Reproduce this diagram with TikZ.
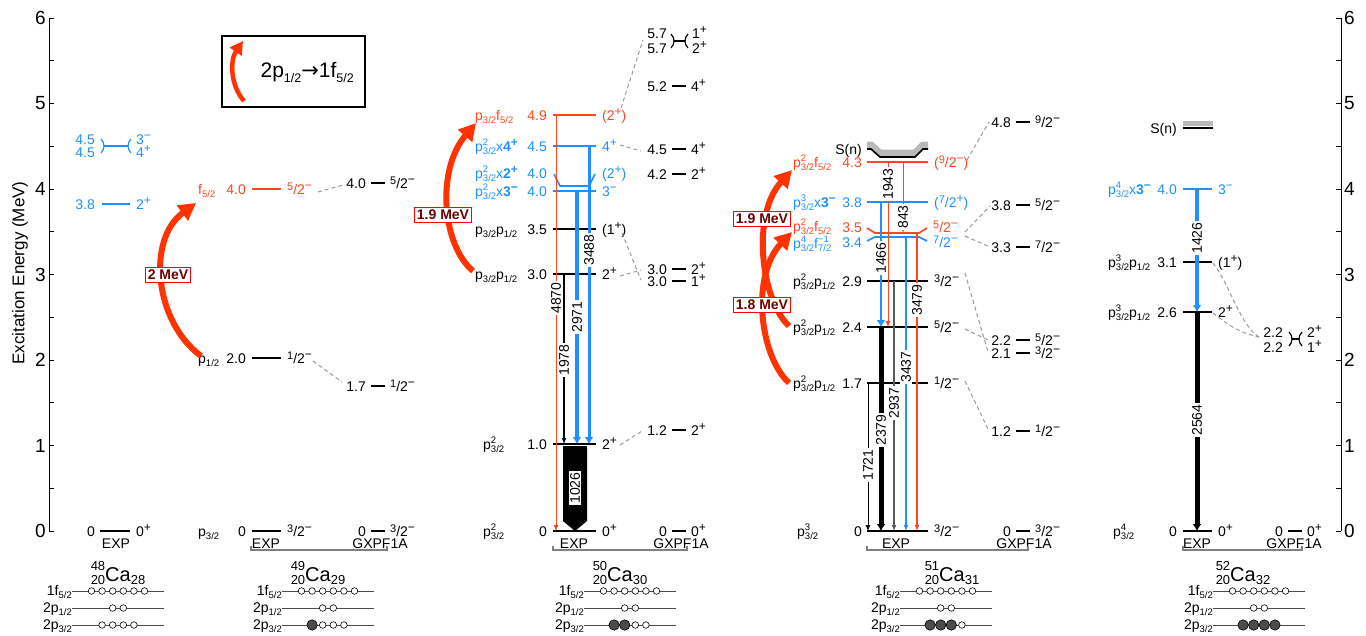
\documentclass[tikz,border=0pt]{standalone}
\usepackage{fontspec}
\setmainfont{Liberation Sans}
\newfontfamily\djv{DejaVu Sans}
\usetikzlibrary{arrows.meta}
\definecolor{cred}{RGB}{255,70,35}
\definecolor{arr}{RGB}{255,51,0}
\definecolor{cblue}{RGB}{30,144,255}
\definecolor{dred}{RGB}{110,0,0}
\newcommand\fsz[1]{\fontsize{#1}{#1}\selectfont}
\newcommand\sbs[1]{\raisebox{-3.5pt}{\fsz{9.5}#1}}
\newcommand\sps[1]{\raisebox{5pt}{\fsz{12}#1}}
\newcommand\sbsp[2]{\rlap{\raisebox{5.5pt}{\fsz{9.5}#1}}\raisebox{-3.5pt}{\fsz{9.5}#2}}
\newcommand\spP{\sps{+}}
\newcommand\spM{\sps{\char"2212}}
\newcommand\hlf[1]{\raisebox{4pt}{\fsz{11}#1}/2}
\newcommand\nuc[3]{\rlap{\raisebox{10.5pt}{\fsz{13}#1}}\raisebox{-3pt}{\fsz{13}#2}{\fsz{20}Ca}\raisebox{-3pt}{\fsz{13}#3}}
% level: color, y, labelx, label, energy x, energy, x1, x2, spin
\newcommand\lev[9]{%
  \node[anchor=base west,text=#1] at (#3,#2+5) {#4};
  \node[anchor=base east,text=#1] at (#5,#2+5) {#6};
  \draw[#1,lvl] (#7,#2) -- (#8,#2);
  \node[anchor=base west,text=#1] at (#8+6,#2+5) {#9};}
% GXPF level: y, X, energy, spin
\newcommand\gx[4]{%
  \node[anchor=base east] at (#2,#1+5) {#3};
  \draw[lvl] (#2+5,#1) -- (#2+19,#1);
  \node[anchor=base west] at (#2+24,#1+5) {#4};}
% doublet bracket: xl, xr, yc, colour
\newcommand\dbl[4]{%
  \draw[#4,line width=1.2] (#1,#3-7) .. controls (#1+4,#3-3) and (#1+4,#3+3) .. (#1,#3+7);
  \draw[#4,line width=1.2] (#2,#3-7) .. controls (#2-4,#3-3) and (#2-4,#3+3) .. (#2,#3+7);
  \draw[#4,lvl] (#1+3,#3) -- (#2-3,#3);}
\newcommand\brk[2]{\draw[gray,line width=1.5] (#1,546) -- (#1,550) -- (#2,550) -- (#2,546);}
\newcommand\orbs[1]{%
  \foreach \yy in {591,608,625} \draw[black!70,line width=0.9] (#1-46,\yy) -- (#1+46,\yy);
  \node[anchor=base east,font=\fsz{14}] at (#1-46,595) {1f\sbs{5/2}};
  \node[anchor=base east,font=\fsz{14}] at (#1-46,612) {2p\sbs{1/2}};
  \node[anchor=base east,font=\fsz{14}] at (#1-46,629) {2p\sbs{3/2}};
  \foreach \k in {-2.5,-1.5,-0.5,0.5,1.5,2.5} \draw[oc] (#1+10.6*\k,591) circle (3.3);
  \foreach \k in {-0.5,0.5} \draw[oc] (#1+10.6*\k,608) circle (3.3);
  \foreach \k in {-1.5,-0.5,0.5,1.5} \draw[oc] (#1+10.6*\k,625) circle (3.3);}
\newcommand\orbfill[2]{\foreach \k in {#2} \draw[fc] (#1+10.6*\k,625) circle (5.2);}
\begin{document}
\begin{tikzpicture}[x=1pt,y=-1pt,
  every node/.style={inner sep=0pt,font=\fsz{14}},
  lvl/.style={line width=1.6},
  dsh/.style={draw=gray!80,dash pattern=on 4pt off 3pt,line width=1},
  lab/.style={rotate=90,fill=white,inner sep=1pt,font=\fsz{14}},
  tarr/.style={-{Latex[length=6pt,width=5pt]}},
  thickarr/.style={-{Latex[length=7pt,width=9pt]}},
  boxlab/.style={draw=red,fill=white,line width=1,inner sep=2.5pt,text=dred,font=\fsz{14}\bfseries},
  bigarr/.style={draw=arr,line width=6,-{Triangle[length=17pt,width=18pt]}},
  oc/.style={draw=black,fill=white,line width=0.6},
  fc/.style={draw=black,fill=black!70,line width=0.6}]
\useasboundingbox (0,0) rectangle (1366,635);

% ---------- axes ----------
\draw[line width=1] (49,18) -- (49,531);
\draw[line width=1] (1341,18) -- (1341,531);
\foreach \k in {0,...,12} {
  \draw[line width=1] (49,531-42.75*\k) -- (54,531-42.75*\k);
  \draw[line width=1] (1341,531-42.75*\k) -- (1336,531-42.75*\k);}
\foreach \k in {0,...,6} {
  \node[anchor=east,font=\fsz{19}] at (46,531-85.5*\k) {\k};
  \node[anchor=west,font=\fsz{19}] at (1344,531-85.5*\k) {\k};}
\node[rotate=90,font=\fsz{17}] (ylab) at (20,273) {Excitation Energy (MeV)};

% ---------- 48Ca ----------
\node[anchor=base east,text=cblue] at (95,144) {4.5};
\node[anchor=base east,text=cblue] at (95,157) {4.5};
\dbl{101}{131}{146}{cblue}
\node[anchor=base west,text=cblue] at (136,144) {3\spM};
\node[anchor=base west,text=cblue] at (136,157) {4\spP};
\lev{cblue}{204}{60}{}{95}{3.8}{102}{130}{2\spP}
\lev{black}{531}{60}{}{95}{0}{100}{130}{0\spP}
\node[anchor=base] at (116,548) {EXP};
\node[anchor=base] (ca48) at (118,581) {\nuc{48}{20}{28}};
\orbs{118}

% ---------- 49Ca ----------
\draw[line width=1.5] (222,36) rectangle (365,107);
\draw[draw=arr,line width=4.5,-{Triangle[length=13pt,width=14pt]}] (244,101) .. controls (230,85) and (230,60) .. (243,41);
\node[anchor=east,font=\fsz{21}] (leg) at (354,72) {2p\raisebox{-5pt}{\fsz{12.5}1/2}{\djv →}1f\raisebox{-5pt}{\fsz{12.5}5/2}};
\lev{cred}{189}{198}{f\sbs{5/2}}{246}{4.0}{252}{281}{\hlf{5}\spM}
\lev{black}{358}{198}{p\sbs{1/2}}{246}{2.0}{252}{281}{\hlf{1}\spM}
\lev{black}{531}{198}{p\sbs{3/2}}{246}{0}{252}{281}{\hlf{3}\spM}
\gx{183}{366}{4.0}{\hlf{5}\spM}
\gx{386}{366}{1.7}{\hlf{1}\spM}
\gx{531}{366}{0}{\hlf{3}\spM}
\draw[dsh] (318,192) -- (343,185);
\draw[dsh] (313,361) -- (342,382);
\draw[bigarr] (201,356) .. controls (155,322) and (146,240) .. (196,203);
\node[boxlab] (b49) at (168,275) {2 MeV};
\node[anchor=base] at (266,548) {EXP};
\node[anchor=base] at (380,548) {GXPF1A};
\brk{251}{387}
\node[anchor=base] (ca49) at (318,581) {\nuc{49}{20}{29}};
\orbs{328}
\orbfill{328}{-1.5}

% ---------- 50Ca ----------
\lev{cred}{115}{475}{p\sbs{3/2}f\sbs{5/2}}{547}{4.9}{553}{596}{(2\spP)}
\lev{cblue}{146}{475}{p\sbsp{2}{3/2}x\textbf{4\spP}}{547}{4.5}{553}{596}{4\spP}
\node[anchor=base west,text=cblue] at (475,178) {p\sbsp{2}{3/2}x\textbf{2\spP}};
\node[anchor=base east,text=cblue] at (547,178) {4.0};
\draw[cblue,lvl] (554,174) -- (560,186) -- (589,186) -- (595,174);
\node[anchor=base west,text=cblue] at (602,178) {(2\spP)};
\lev{cblue}{191}{475}{p\sbsp{2}{3/2}x\textbf{3\spM}}{547}{4.0}{553}{596}{3\spM}
\lev{black}{229}{475}{p\sbs{3/2}p\sbs{1/2}}{547}{3.5}{553}{596}{(1\spP)}
\lev{black}{274}{475}{p\sbs{3/2}p\sbs{1/2}}{547}{3.0}{553}{596}{2\spP}
\lev{black}{444}{483}{p\sbsp{2}{3/2}}{547}{1.0}{553}{596}{2\spP}
\lev{black}{531}{483}{p\sbsp{2}{3/2}}{547}{0}{553}{596}{0\spP}
% transitions
\draw[cred,line width=0.8,tarr] (556,115) -- (556,531);
\node[lab] at (556,298) {4870};
\draw[black,line width=1.8,tarr] (564,274) -- (564,444);
\node[lab] at (564,360) {1978};
\draw[cblue,line width=4,thickarr] (577,191) -- (577,444);
\node[lab] at (577,317) {2971};
\draw[cblue,line width=3,thickarr] (589,146) -- (589,444);
\node[lab] at (589,250) {3488};
\fill (563,446) -- (587,446) -- (587,521) -- (575,531) -- (563,521) -- cycle;
\node[lab] at (575,488) {1026};
% GXPF1A
\node[anchor=base east] at (667,38) {5.7};
\node[anchor=base east] at (667,53) {5.7};
\dbl{671}{688}{41}{black}
\node[anchor=base west] at (692,38) {1\spP};
\node[anchor=base west] at (692,53) {2\spP};
\gx{86}{667}{5.2}{4\spP}
\gx{149}{667}{4.5}{4\spP}
\gx{174}{667}{4.2}{2\spP}
\gx{269}{667}{3.0}{2\spP}
\gx{281}{667}{3.0}{1\spP}
\gx{430}{667}{1.2}{2\spP}
\gx{531}{667}{0}{0\spP}
\draw[dsh] (621,108) -- (643,40);
\draw[dsh] (620,145) -- (641,151);
\draw[dsh] (620,276) -- (641,270);
\draw[dsh] (622,233) -- (641,280);
\draw[dsh] (620,445) -- (642,431);
\draw[bigarr] (473,271) .. controls (442,245) and (436,170) .. (476,123);
\node[boxlab] (b50) at (443,215) {1.9 MeV};
\node[anchor=base] at (574,548) {EXP};
\node[anchor=base] at (681,548) {GXPF1A};
\brk{553}{687}
\node[anchor=base] (ca50) at (620,581) {\nuc{50}{20}{30}};
\orbs{630}
\orbfill{630}{-1.5,-0.5}

% ---------- 51Ca ----------
\node[anchor=base east] at (862,154) {S(n)};
\draw[gray!55,line width=7] (867,145) -- (871,145) -- (880,153) -- (915,153) -- (923,145) -- (928,145);
\draw[line width=1.6] (867,149) -- (871,149) -- (880,157) -- (915,157) -- (923,149) -- (928,149);
\lev{cred}{162}{793}{p\sbsp{2}{3/2}f\sbs{5/2}}{862}{4.3}{867}{928}{(\hlf{9}\spM)}
\lev{cblue}{202}{793}{p\sbsp{3}{3/2}x\textbf{3\spM}}{862}{3.8}{867}{928}{(\hlf{7}\spP)}
\node[anchor=base west,text=cred] at (793,231) {p\sbsp{2}{3/2}f\sbs{5/2}};
\node[anchor=base east,text=cred] at (862,232) {3.5};
\draw[cred,lvl] (867,228) -- (875,233) -- (919,233) -- (927,228);
\node[anchor=base west,text=cred] at (933,232) {\hlf{5}\spM};
\node[anchor=base west,text=cblue] at (793,248) {p\sbsp{4}{3/2}f\sbsp{\char"2212 1}{7/2}};
\node[anchor=base east,text=cblue] at (862,247) {3.4};
\draw[cblue,lvl] (867,241) -- (875,237) -- (919,237) -- (927,241);
\node[anchor=base west,text=cblue] at (933,247) {\hlf{7}\spM};
\lev{black}{281}{793}{p\sbsp{2}{3/2}p\sbs{1/2}}{862}{2.9}{867}{928}{\hlf{3}\spM}
\lev{black}{327}{793}{p\sbsp{2}{3/2}p\sbs{1/2}}{862}{2.4}{867}{928}{\hlf{5}\spM}
\lev{black}{383}{793}{p\sbsp{2}{3/2}p\sbs{1/2}}{862}{1.7}{867}{928}{\hlf{1}\spM}
\lev{black}{531}{797}{p\sbsp{3}{3/2}}{862}{0}{867}{928}{\hlf{3}\spM}
% transitions
\draw[cblue,line width=2.5,thickarr] (881,202) -- (881,327);
\draw[cred,line width=1,tarr] (888,162) -- (888,327);
\draw[cred,line width=1,tarr] (903,162) -- (903,233);
\draw[cblue,line width=1.2,tarr] (906,237) -- (906,531);
\draw[cred,line width=1.5,tarr] (917,233) -- (917,531);
\draw[black!65,line width=1.5,tarr] (894,281) -- (894,531);
\draw[black,line width=5,thickarr] (881,327) -- (881,531);
\draw[black,line width=1,tarr] (868,383) -- (868,531);
\node[lab] at (881,258) {1466};
\node[lab] at (888,184) {1943};
\node[lab] at (903,217) {843};
\node[lab] at (906,367) {3437};
\node[lab] at (917,300) {3479};
\node[lab] at (894,403) {2937};
\node[lab] at (881,430) {2379};
\node[lab] at (868,465) {1721};
% GXPF1A
\gx{122}{1011}{4.8}{\hlf{9}\spM}
\gx{205}{1011}{3.8}{\hlf{5}\spM}
\gx{247}{1011}{3.3}{\hlf{7}\spM}
\gx{340}{1011}{2.2}{\hlf{5}\spM}
\gx{353}{1011}{2.1}{\hlf{3}\spM}
\gx{431}{1011}{1.2}{\hlf{1}\spM}
\gx{531}{1011}{0}{\hlf{3}\spM}
\draw[dsh] (967,160) -- (989,122);
\draw[dsh] (965,232) -- (990,206);
\draw[dsh] (965,236) -- (990,247);
\draw[dsh] (965,273) -- (988,352);
\draw[dsh] (965,329) -- (988,340);
\draw[dsh] (965,381) -- (988,429);
\draw[bigarr] (789,326) .. controls (761,300) and (751,215) .. (792,170);
\draw[bigarr] (789,383) .. controls (759,355) and (751,275) .. (792,232);
\node[boxlab] (b51a) at (762,219) {1.9 MeV};
\node[boxlab] (b51b) at (762,305) {1.8 MeV};
\node[anchor=base] at (896,548) {EXP};
\node[anchor=base] at (1024,548) {GXPF1A};
\brk{867}{1028}
\node[anchor=base] (ca51) at (952,581) {\nuc{51}{20}{31}};
\orbs{946}
\orbfill{946}{-1.5,-0.5,0.5}

% ---------- 52Ca ----------
\node[anchor=base east] at (1177,133) {S(n)};
\draw[gray!55,line width=4.5] (1183,123.5) -- (1213,123.5);
\draw[line width=2] (1183,127.5) -- (1213,127.5);
\lev{cblue}{189}{1108}{p\sbsp{4}{3/2}x\textbf{3\spM}}{1177}{4.0}{1183}{1212}{3\spM}
\lev{black}{262}{1108}{p\sbsp{3}{3/2}p\sbs{1/2}}{1177}{3.1}{1183}{1212}{(1\spP)}
\lev{black}{312}{1108}{p\sbsp{3}{3/2}p\sbs{1/2}}{1177}{2.6}{1183}{1212}{2\spP}
\lev{black}{531}{1113}{p\sbsp{4}{3/2}}{1177}{0}{1183}{1212}{0\spP}
\draw[cblue,line width=4,thickarr] (1197,189) -- (1197,312);
\draw[black,line width=5,thickarr] (1197,312) -- (1197,531);
\node[lab] at (1197,238) {1426};
\node[lab] at (1197,420) {2564};
\node[anchor=base east] at (1283,337) {2.2};
\node[anchor=base east] at (1283,352) {2.2};
\dbl{1289}{1302}{339}{black}
\node[anchor=base west] at (1307,337) {2\spP};
\node[anchor=base west] at (1307,352) {1\spP};
\gx{531}{1283}{0}{0\spP}
\draw[dsh] (1213,263) .. controls (1230,285) and (1240,325) .. (1259,337);
\draw[dsh] (1213,313) .. controls (1228,325) and (1240,333) .. (1259,337);
\node[anchor=base] at (1197,548) {EXP};
\node[anchor=base] at (1294,548) {GXPF1A};
\brk{1183}{1302}
\node[anchor=base] (ca52) at (1243,581) {\nuc{52}{20}{32}};
\orbs{1259}
\orbfill{1259}{-1.5,-0.5,0.5,1.5}
\end{tikzpicture}
\end{document}
